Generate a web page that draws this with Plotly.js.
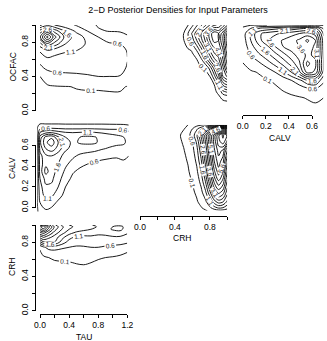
<!DOCTYPE html>
<html>
<head>
<meta charset="utf-8">
<script src="https://cdn.plot.ly/plotly-3.0.1.min.js"></script>
<style>html,body{margin:0;padding:0;background:#fff;}#chart{width:327px;height:341px;}</style>
</head>
<body>
<div id="chart"></div>
<script>
// ---------- data (densities) ----------
const TITLE = "2\u2212D Posterior Densities for Input Parameters";

// Panel TAU (x) vs OCFAC (y)
const TAU_A = [0, 0.1, 0.2, 0.35, 0.5, 0.65, 0.8, 0.95, 1.1, 1.2];
const OCFAC_A = [0, 0.15, 0.28, 0.4, 0.5, 0.6, 0.7, 0.78, 0.86, 0.93, 1.0];
const DENS_TAU_OCFAC = [
  [0.02,0.02,0.02,0.02,0.02,0.02,0.02,0.02,0.02,0.02],
  [0.03,0.04,0.05,0.05,0.06,0.06,0.06,0.06,0.06,0.05],
  [0.06,0.07,0.08,0.09,0.11,0.12,0.12,0.13,0.13,0.09],
  [0.10,0.22,0.35,0.45,0.50,0.55,0.60,0.60,0.58,0.40],
  [0.45,0.75,0.85,0.80,0.78,0.78,0.80,0.80,0.78,0.55],
  [0.80,1.00,0.95,0.90,0.88,0.86,0.86,0.88,0.90,0.62],
  [1.15,1.50,1.30,1.15,1.10,1.00,0.92,0.90,0.95,0.55],
  [1.90,3.00,2.40,1.60,1.30,1.05,0.80,0.65,0.60,0.35],
  [3.00,4.80,3.30,1.90,1.35,0.95,0.60,0.35,0.25,0.12],
  [2.30,3.20,2.40,1.50,1.00,0.60,0.15,0.08,0.07,0.06],
  [1.00,1.40,1.10,0.80,0.55,0.25,0.06,0.05,0.05,0.05]
];

// Panel CRH (x) vs OCFAC (y)
const CRH_B = [0.45, 0.5, 0.55, 0.6, 0.65, 0.7, 0.75, 0.8, 0.85, 0.9, 0.95, 1.0];
const OCFAC_B = [0.08, 0.15, 0.22, 0.3, 0.4, 0.5, 0.6, 0.7, 0.82, 0.9, 1.0];
const DENS_CRH_OCFAC = [
  [0,0,0,0,0,0,0,0,0.01,0.01,0.02,0.02],
  [0,0,0,0,0,0,0,0.01,0.02,0.05,0.15,0.2],
  [0,0,0,0,0,0,0.01,0.02,0.05,0.15,0.9,1.2],
  [0,0,0,0,0,0.01,0.02,0.05,0.08,0.8,2.2,2.6],
  [0,0,0,0,0.01,0.02,0.05,0.1,0.9,2.0,3.6,4.2],
  [0,0,0,0.01,0.03,0.06,0.12,0.8,1.8,2.7,4.0,5.4],
  [0,0,0.01,0.04,0.1,0.5,1.3,2.2,3.0,3.5,4.6,6.0],
  [0,0.01,0.04,0.12,0.6,1.3,2.2,3.1,3.8,4.0,5.0,6.5],
  [0.02,0.08,0.35,0.9,1.6,2.4,3.2,4.1,4.8,4.6,5.6,7.0],
  [0.04,0.1,0.6,1.2,1.9,2.6,3.4,4.3,5.0,4.6,5.4,6.8],
  [0.01,0.03,0.08,0.5,1.0,1.5,2.0,2.6,3.0,3.2,3.8,4.5]
];

// Panel CALV (x) vs OCFAC (y)
const CALV_C = [0, 0.07, 0.14, 0.21, 0.28, 0.35, 0.42, 0.49, 0.56, 0.63, 0.7];
const OCFAC_C = [0.05, 0.15, 0.25, 0.35, 0.45, 0.55, 0.65, 0.75, 0.82, 0.9, 0.96, 1.0];
const DENS_CALV_OCFAC = [
  [0,0,0,0,0,0,0.01,0.01,0.02,0.03,0.03],
  [0,0,0,0,0.01,0.02,0.04,0.07,0.12,0.2,0.1],
  [0,0,0.01,0.02,0.05,0.12,0.2,0.3,0.45,0.55,0.3],
  [0,0.01,0.03,0.07,0.14,0.3,0.55,0.9,1.5,1.6,0.7],
  [0.02,0.06,0.12,0.3,0.6,1.0,1.6,2.5,3.8,3.5,1.4],
  [0.09,0.25,0.5,0.85,1.25,1.75,2.3,3.0,4.25,3.7,1.6],
  [0.18,0.6,1.0,1.4,1.9,2.4,2.9,3.3,3.7,3.5,1.5],
  [0.25,0.9,1.5,2.0,2.6,3.1,3.35,3.6,3.9,3.5,1.4],
  [0.3,1.1,1.9,2.5,2.9,3.15,3.4,3.7,4.2,3.6,1.3],
  [0.3,1.2,2.0,2.3,2.5,2.7,2.9,3.1,3.3,2.9,1.0],
  [0.15,0.6,1.1,1.3,1.45,1.6,1.8,2.0,2.1,1.8,0.5],
  [0.02,0.05,0.08,0.1,0.12,0.12,0.12,0.12,0.12,0.1,0.05]
];

// Panel TAU (x) vs CALV (y) -- one list per TAU column
const TAU_D = [-0.04, 0, 0.08, 0.16, 0.25, 0.35, 0.45, 0.55, 0.65, 0.75, 0.85, 0.95, 1.05, 1.15, 1.22];
const CALV_D = [-0.04, 0.05, 0.12, 0.2, 0.28, 0.35, 0.42, 0.5, 0.57, 0.63, 0.68, 0.72, 0.76, 0.79, 0.82];
const DENS_TAU_CALV_COLS = [
  [0.02,0.05,0.06,0.07,0.08,0.08,0.08,0.08,0.09,0.09,0.09,0.08,0.06,0.04,0.02],
  [0.3,0.6,0.8,0.9,1.1,1.3,1.3,1.4,1.8,2.0,1.8,1.2,0.6,0.2,0.03],
  [0.5,0.9,1.3,1.5,1.8,2.3,2.0,2.0,2.6,3.0,2.8,1.6,0.7,0.2,0.03],
  [0.4,0.8,1.2,1.5,1.7,1.8,1.8,2.1,2.9,3.4,3.0,1.7,0.7,0.2,0.03],
  [0.2,0.5,0.8,1.1,1.3,1.45,1.6,1.8,2.4,2.6,2.2,1.4,0.65,0.2,0.03],
  [0.15,0.3,0.45,0.6,0.8,1.0,1.2,1.4,1.7,1.8,1.6,1.2,0.6,0.18,0.03],
  [0.12,0.2,0.3,0.4,0.5,0.65,0.9,1.2,1.45,1.5,1.45,1.15,0.6,0.18,0.03],
  [0.12,0.18,0.25,0.3,0.4,0.5,0.7,1.0,1.4,1.65,1.6,1.2,0.6,0.18,0.03],
  [0.12,0.17,0.22,0.28,0.35,0.45,0.6,0.9,1.35,1.7,1.7,1.25,0.62,0.18,0.03],
  [0.1,0.17,0.2,0.26,0.33,0.42,0.52,0.8,1.3,1.68,1.65,1.2,0.6,0.18,0.03],
  [0.12,0.16,0.2,0.25,0.3,0.38,0.48,0.72,1.15,1.45,1.4,1.1,0.58,0.18,0.03],
  [0.12,0.16,0.2,0.24,0.3,0.36,0.45,0.68,1.05,1.3,1.25,1.05,0.55,0.17,0.03],
  [0.12,0.15,0.2,0.24,0.28,0.35,0.45,0.65,1.0,1.2,1.2,1.0,0.55,0.16,0.03],
  [0.11,0.15,0.18,0.22,0.26,0.33,0.5,0.7,1.0,1.15,1.1,0.9,0.5,0.15,0.03],
  [0.1,0.13,0.16,0.2,0.25,0.32,0.45,0.6,0.85,1.0,0.95,0.75,0.4,0.12,0.03]
];

// Panel CRH (x) vs CALV (y)
const CRH_E = [0.45, 0.5, 0.55, 0.6, 0.65, 0.7, 0.75, 0.8, 0.85, 0.9, 0.95, 1.0];
const CALV_E = [-0.03, 0.0, 0.06, 0.15, 0.25, 0.35, 0.45, 0.55, 0.64, 0.7, 0.76, 0.8];
const DENS_CRH_CALV = [
  [0,0,0,0,0.01,0.03,0.06,0.15,0.3,0.4,0.4,0.3],
  [0,0,0,0.01,0.03,0.08,0.2,0.5,0.9,1.2,1.1,0.8],
  [0,0,0,0.02,0.07,0.2,0.5,1.1,1.9,2.4,2.2,1.5],
  [0,0,0.01,0.05,0.15,0.45,1.0,2.0,3.2,3.8,3.4,2.3],
  [0,0.01,0.03,0.11,0.32,0.75,1.6,2.9,4.2,5.0,4.4,3.0],
  [0,0.02,0.07,0.2,0.5,1.1,2.2,3.6,5.0,5.9,5.2,3.6],
  [0.01,0.04,0.12,0.32,0.7,1.5,2.8,4.2,5.6,6.4,5.8,4.2],
  [0.03,0.08,0.2,0.45,0.9,1.9,3.2,4.6,6.0,6.8,6.5,5.0],
  [0.05,0.14,0.35,0.6,1.2,2.3,3.6,5.0,6.3,7.4,8.0,7.0],
  [0.06,0.2,0.45,0.8,1.5,2.6,3.8,5.0,6.3,7.5,8.2,7.5],
  [0.03,0.08,0.2,0.6,1.0,1.5,2.2,3.0,3.8,4.5,5.0,4.5],
  [0.02,0.06,0.1,0.25,0.4,0.5,0.6,0.7,0.8,0.9,0.9,0.8]
];

// Panel TAU (x) vs CRH (y)
const TAU_F = [0, 0.05, 0.12, 0.2, 0.3, 0.4, 0.5, 0.6, 0.7, 0.8, 0.9, 1.0, 1.1, 1.2];
const CRH_F = [0.4, 0.5, 0.56, 0.62, 0.68, 0.74, 0.8, 0.86, 0.91, 0.95, 0.98, 1.0];
const DENS_TAU_CRH = [
  [0,0,0,0.01,0.01,0.01,0.02,0.02,0.02,0.01,0.01,0.01,0.01,0],
  [0,0.01,0.02,0.03,0.04,0.05,0.06,0.07,0.05,0.03,0.02,0.02,0.02,0.01],
  [0.01,0.02,0.04,0.06,0.08,0.09,0.11,0.12,0.1,0.07,0.05,0.04,0.03,0.03],
  [0.03,0.06,0.1,0.15,0.15,0.15,0.15,0.18,0.16,0.12,0.1,0.08,0.06,0.05],
  [0.06,0.2,0.35,0.4,0.35,0.3,0.3,0.32,0.32,0.3,0.25,0.2,0.15,0.1],
  [0.15,0.5,0.8,0.85,0.7,0.6,0.55,0.55,0.6,0.6,0.55,0.5,0.45,0.4],
  [1.5,2.0,2.0,2.1,1.4,0.9,0.75,0.8,0.8,0.75,0.75,0.75,0.75,0.65],
  [2.8,3.2,2.8,2.4,1.8,1.3,1.0,1.0,1.05,1.0,1.0,1.05,1.05,0.95],
  [4.0,4.3,3.6,2.9,2.3,1.8,1.5,1.35,1.25,1.2,1.25,1.4,1.4,1.15],
  [5.0,5.5,4.4,3.3,2.6,2.1,1.9,1.75,1.6,1.45,1.45,1.65,1.75,1.3],
  [5.5,6.0,4.8,3.5,2.7,2.2,2.0,1.9,1.75,1.55,1.4,1.6,1.8,1.3],
  [4.5,5.0,4.2,3.2,2.5,2.1,1.9,1.8,1.65,1.4,1.15,1.25,1.4,1.1]
];

// Axis ticks
const TICKS_TAU = [0, 0.2, 0.4, 0.6, 0.8, 1.0, 1.2];
const TICKTEXT_TAU = ["0.0", "", "0.4", "", "0.8", "", "1.2"];
const TICKS_UNIT = [0, 0.2, 0.4, 0.6, 0.8, 1.0];
const TICKTEXT_UNIT = ["0.0", "", "0.4", "", "0.8", ""];
const TICKS_CALV = [0, 0.2, 0.4, 0.6];
const TICKTEXT_CALV = ["0.0", "0.2", "0.4", "0.6"];
const LABELS = {tau: "TAU", ocfac: "OCFAC", calv: "CALV", crh: "CRH"};

// ---------- drawing ----------
const W = 327, H = 341;
const FONT = "Liberation Sans, Arial, Helvetica, sans-serif";
const fx = p => p / W;
const fy = p => 1 - p / H;
function transpose(m) { return m[0].map((_, i) => m.map(r => r[i])); }

function contour(x, y, z, xa, ya) {
  return {
    type: "contour", x: x, y: y, z: z, xaxis: xa, yaxis: ya,
    autocontour: false,
    contours: {coloring: "lines", start: 0.1, end: 12, size: 0.5, showlabels: true,
      labelfont: {family: FONT, size: 6.5, color: "#222"}, labelformat: ".1f"},
    colorscale: [[0, "#000"], [1, "#000"]], showscale: false,
    line: {width: 0.9, smoothing: 1}, hoverinfo: "skip"
  };
}
function blank(xa, ya) {
  return {type: "scatter", x: [], y: [], xaxis: xa, yaxis: ya, hoverinfo: "skip", showlegend: false};
}

const data = [
  contour(TAU_A, OCFAC_A, DENS_TAU_OCFAC, "x", "y"),
  contour(CRH_B, OCFAC_B, DENS_CRH_OCFAC, "x2", "y2"),
  contour(CALV_C, OCFAC_C, DENS_CALV_OCFAC, "x3", "y3"),
  contour(TAU_D, CALV_D, transpose(DENS_TAU_CALV_COLS), "x4", "y4"),
  contour(CRH_E, CALV_E, DENS_CRH_CALV, "x5", "y5"),
  contour(TAU_F, CRH_F, DENS_TAU_CRH, "x6", "y6"),
  blank("x7", "y6"), blank("x8", "y5"), blank("x9", "y3"),
  blank("x", "y7"), blank("x4", "y8"), blank("x6", "y9")
];

function hidden(domain, range, anchor) {
  return {domain: domain, range: range, anchor: anchor, showline: false, showgrid: false,
    zeroline: false, ticks: "", showticklabels: false, fixedrange: true};
}
function deco(domain, range, anchor, vals, text, isY) {
  return {domain: domain, range: range, anchor: anchor, showline: true, linecolor: "#000",
    linewidth: 1, ticks: "outside", ticklen: 3, tickwidth: 1, tickcolor: "#000",
    tickmode: "array", tickvals: vals, ticktext: text, showgrid: false, zeroline: false,
    tickangle: isY ? -90 : 0, tickfont: {family: FONT, size: 8.5, color: "#000"}, fixedrange: true};
}

// pixel geometry of the panels
const colX = [[35.5, 132, 40, 72.8], [136.5, 232, 140, 87.3], [239, 327, 242.7, 115.5]];
const rowY = [[20, 115, 110.7, 85.7], [120, 215.7, 207.7, 103.7], [220, 314, 310.7, 85.7]];
function xDom(c) { return [fx(c[0]), fx(c[1])]; }
function xRng(c) { return [(c[0] - c[2]) / c[3], (c[1] - c[2]) / c[3]]; }
function yDom(r) { return [fy(r[1]), fy(r[0])]; }
function yRng(r) { return [(r[2] - r[1]) / r[3], (r[2] - r[0]) / r[3]]; }

const layout = {
  width: W, height: H, margin: {l: 0, r: 0, t: 0, b: 0},
  paper_bgcolor: "#fff", plot_bgcolor: "rgba(0,0,0,0)", showlegend: false,
  font: {family: FONT, size: 8.5, color: "#000"},
  title: {text: TITLE, x: 178 / W, xanchor: "center", y: fy(10), yanchor: "middle",
    font: {family: FONT, size: 9, color: "#000"}},
  xaxis: hidden(xDom(colX[0]), xRng(colX[0]), "y"),
  yaxis: hidden(yDom(rowY[0]), yRng(rowY[0]), "x"),
  xaxis2: hidden(xDom(colX[1]), xRng(colX[1]), "y2"),
  yaxis2: hidden(yDom(rowY[0]), yRng(rowY[0]), "x2"),
  xaxis3: hidden(xDom(colX[2]), xRng(colX[2]), "y3"),
  yaxis3: hidden(yDom(rowY[0]), yRng(rowY[0]), "x3"),
  xaxis4: hidden(xDom(colX[0]), xRng(colX[0]), "y4"),
  yaxis4: hidden(yDom(rowY[1]), yRng(rowY[1]), "x4"),
  xaxis5: hidden(xDom(colX[1]), xRng(colX[1]), "y5"),
  yaxis5: hidden(yDom(rowY[1]), yRng(rowY[1]), "x5"),
  xaxis6: hidden(xDom(colX[0]), xRng(colX[0]), "y6"),
  yaxis6: hidden(yDom(rowY[2]), yRng(rowY[2]), "x6"),
  // visible axes (R style: line only between first and last tick)
  xaxis7: deco([fx(40), fx(40 + 1.2 * 72.8)], [0, 1.2], "y6", TICKS_TAU, TICKTEXT_TAU, false),
  xaxis8: deco([fx(140), fx(140 + 87.3)], [0, 1], "y5", TICKS_UNIT, TICKTEXT_UNIT, false),
  xaxis9: deco([fx(242.7), fx(242.7 + 0.6 * 115.5)], [0, 0.6], "y3", TICKS_CALV, TICKTEXT_CALV, false),
  yaxis7: deco([fy(110.7), fy(110.7 - 85.7)], [0, 1], "x", TICKS_UNIT, TICKTEXT_UNIT, true),
  yaxis8: deco([fy(207.7), fy(207.7 - 0.6 * 103.7)], [0, 0.6], "x4", TICKS_CALV, TICKTEXT_CALV, true),
  yaxis9: deco([fy(310.7), fy(310.7 - 85.7)], [0, 1], "x6", TICKS_UNIT, TICKTEXT_UNIT, true),
  annotations: [
    {text: LABELS.ocfac, x: fx(12), y: fy(67.5), textangle: -90},
    {text: LABELS.calv, x: fx(12), y: fy(168), textangle: -90},
    {text: LABELS.crh, x: fx(12), y: fy(267), textangle: -90},
    {text: LABELS.tau, x: fx(84), y: fy(337), textangle: 0},
    {text: LABELS.crh, x: fx(182), y: fy(238), textangle: 0},
    {text: LABELS.calv, x: fx(280), y: fy(138), textangle: 0}
  ].map(a => Object.assign({xref: "paper", yref: "paper", showarrow: false,
    xanchor: "center", yanchor: "middle", font: {family: FONT, size: 8.5, color: "#000"}}, a))
};

Plotly.newPlot("chart", data, layout, {staticPlot: true, displayModeBar: false});
</script>
</body>
</html>
